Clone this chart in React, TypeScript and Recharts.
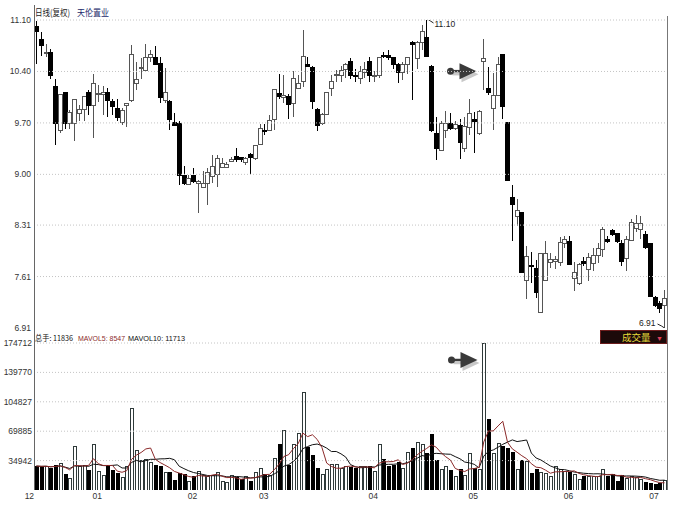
import { Bar, ComposedChart, Line, ReferenceLine, XAxis, YAxis } from "recharts"

// daily candles (price units)
const opens = [
  11.01, 10.83, 10.64, 10.66, 10.2, 9.6, 10.11, 9.69, 9.69, 9.83,
  9.88, 10.12, 9.94, 10.09, 10.08, 10.11, 9.99, 9.9, 9.71, 9.94,
  10.0, 10.23, 10.44, 10.41, 10.59, 10.59, 10.51, 10.0, 9.99, 9.7,
  9.69, 8.99, 8.86, 8.99, 8.88, 8.82, 8.88, 8.97, 9.0, 9.1,
  9.09, 9.18, 9.24, 9.23, 9.16, 9.27, 9.22, 9.41, 9.6, 9.6,
  9.74, 10.1, 10.05, 10.06, 9.97, 10.17, 10.26, 10.49, 10.45, 9.88,
  9.69, 9.82, 10.17, 10.35, 10.34, 10.42, 10.53, 10.34, 10.31, 10.38,
  10.53, 10.33, 10.34, 10.62, 10.62, 10.59, 10.49, 10.39, 10.49, 10.8,
  10.57, 10.8, 10.86, 10.47, 9.56, 9.32, 9.6, 9.69, 9.62, 9.67,
  9.35, 9.64, 9.74, 9.56, 10.54, 10.17, 9.9, 10.07, 10.63, 9.7,
  8.68, 8.43, 8.48, 7.55, 7.76, 7.72, 7.12, 7.55, 7.8, 7.82,
  7.8, 8.06, 8.08, 7.58, 7.52, 7.82, 7.7, 7.79, 7.89, 7.98,
  8.11, 8.23, 8.2, 8.06, 7.85, 8.1, 8.27, 8.25, 8.18, 8.06,
  7.32, 7.25, 7.21,
]
const highs = [
  11.08, 10.94, 10.78, 10.71, 10.3, 10.09, 10.11, 9.87, 10.03, 9.94,
  10.07, 10.15, 10.37, 10.21, 10.2, 10.17, 10.03, 10.03, 9.9, 9.97,
  10.76, 10.53, 10.58, 10.78, 10.69, 10.74, 10.6, 10.45, 10.01, 9.83,
  9.72, 9.12, 8.99, 9.08, 8.92, 9.04, 9.08, 9.26, 9.26, 9.22,
  9.17, 9.24, 9.36, 9.24, 9.23, 9.29, 9.4, 9.69, 9.69, 9.81,
  10.16, 10.37, 10.35, 10.1, 10.4, 10.35, 10.97, 10.6, 10.47, 9.9,
  9.83, 10.12, 10.35, 10.42, 10.48, 10.51, 10.58, 10.44, 10.47, 10.53,
  10.59, 10.4, 10.6, 10.67, 10.69, 10.6, 10.51, 10.53, 10.6, 10.82,
  10.81, 11.03, 11.1, 10.49, 9.78, 9.73, 9.86, 9.83, 9.73, 9.76,
  9.78, 10.03, 9.85, 9.88, 10.84, 10.46, 10.38, 10.6, 10.63, 9.7,
  8.85, 8.66, 8.48, 8.02, 7.95, 7.84, 7.92, 8.09, 7.93, 7.89,
  8.15, 8.16, 8.16, 7.81, 7.79, 7.87, 7.93, 8.0, 8.07, 8.29,
  8.16, 8.25, 8.2, 8.11, 8.16, 8.39, 8.45, 8.43, 8.23, 8.06,
  7.34, 7.28, 7.43,
]
const lows = [
  10.5, 10.61, 10.6, 10.3, 9.4, 9.56, 9.62, 9.62, 9.45, 9.72,
  9.72, 9.81, 9.49, 9.99, 9.81, 9.78, 9.81, 9.72, 9.67, 9.65,
  9.99, 10.15, 10.3, 10.4, 10.53, 10.49, 9.97, 9.97, 9.6, 9.67,
  8.85, 8.85, 8.85, 8.88, 8.47, 8.81, 8.58, 8.88, 8.83, 9.08,
  9.08, 9.17, 9.17, 9.17, 9.13, 9.0, 9.19, 9.4, 9.54, 9.6,
  9.6, 10.03, 9.97, 9.76, 9.78, 10.17, 10.19, 10.47, 9.89, 9.59,
  9.67, 9.81, 10.06, 10.26, 10.26, 10.31, 10.3, 10.26, 10.23, 10.31,
  10.26, 10.26, 10.31, 10.58, 10.56, 10.44, 10.24, 10.28, 10.37, 10.01,
  10.44, 10.69, 10.61, 9.58, 9.19, 9.32, 9.5, 9.6, 9.6, 9.21,
  9.3, 9.53, 9.29, 9.53, 10.15, 10.08, 9.6, 10.06, 9.76, 8.92,
  8.09, 8.3, 7.66, 7.3, 7.52, 7.32, 7.11, 7.55, 7.73, 7.71,
  7.75, 8.0, 7.77, 7.41, 7.5, 7.75, 7.55, 7.68, 7.8, 7.87,
  8.06, 8.16, 8.07, 7.75, 7.68, 8.09, 8.21, 8.12, 7.99, 7.34,
  7.19, 7.12, 6.91,
]
const closes = [
  10.95, 10.75, 10.66, 10.35, 9.69, 10.09, 9.69, 9.84, 10.02, 9.88,
  10.06, 9.94, 10.24, 10.1, 10.12, 10.0, 9.92, 9.78, 9.87, 9.97,
  10.63, 10.29, 10.45, 10.59, 10.63, 10.5, 10.04, 10.12, 9.74, 9.67,
  8.98, 8.88, 8.95, 8.9, 8.9, 8.88, 9.03, 9.11, 9.22, 9.15,
  9.14, 9.2, 9.2, 9.2, 9.21, 9.23, 9.39, 9.63, 9.59, 9.73,
  10.15, 10.06, 10.07, 9.95, 10.3, 10.23, 10.6, 10.47, 9.99, 9.66,
  9.81, 10.12, 10.26, 10.36, 10.41, 10.49, 10.35, 10.33, 10.4, 10.42,
  10.35, 10.34, 10.59, 10.6, 10.59, 10.49, 10.39, 10.49, 10.59, 10.77,
  10.8, 10.95, 10.61, 9.6, 9.35, 9.69, 9.69, 9.62, 9.68, 9.44,
  9.65, 9.83, 9.72, 9.85, 10.58, 10.11, 10.07, 10.49, 9.92, 8.92,
  8.59, 8.51, 7.67, 7.88, 7.74, 7.39, 7.92, 7.93, 7.84, 7.84,
  8.07, 8.11, 7.77, 7.66, 7.77, 7.79, 7.87, 7.9, 7.99, 8.25,
  8.09, 8.18, 8.09, 7.81, 8.11, 8.34, 8.33, 8.33, 8.01, 7.34,
  7.21, 7.17, 7.31,
]
// 成交量 (手)
const volumes = [
  28500, 27700, 28500, 25700, 29700, 31700, 19000, 13900, 51500, 28500,
  29700, 23000, 53500, 21800, 17800, 29700, 23000, 19800, 15000, 27700,
  97000, 47500, 35600, 36400, 32900, 29700, 28500, 20600, 20600, 11100,
  19800, 19000, 9900, 15800, 21800, 17000, 16600, 17800, 20600, 9900,
  8700, 17800, 14700, 12000, 16000, 10000, 20600, 25700, 19000, 17800,
  37600, 53500, 71300, 29700, 53500, 67300, 116000, 50700, 40800, 25700,
  19000, 23800, 30500, 30500, 25700, 28500, 26900, 25700, 28500, 27700,
  27700, 21800, 53500, 36400, 28500, 28900, 32500, 25700, 44400, 49500,
  56600, 53500, 42800, 66100, 35600, 24600, 28500, 23000, 16600, 23800,
  17800, 43600, 25700, 23800, 174712, 83200, 43600, 55400, 51500, 49500,
  44400, 23800, 34500, 33700, 19800, 23800, 20600, 19800, 15800, 27700,
  24600, 21800, 20600, 19000, 12700, 16600, 16600, 16600, 16600, 24600,
  16600, 18600, 9900, 16800, 14000, 16000, 15000, 12600, 9500, 8200,
  6000, 7200, 11836,
]

const priceTicks = [11.1, 10.4, 9.7, 9.0, 8.31, 7.61, 6.91]
const volumeTicks = [34942, 69885, 104827, 139770, 174712]
const monthTickIdx = [0, 13, 33, 48, 71, 92, 112, 130]
const monthNames = ["12", "01", "02", "03", "04", "05", "06", "07"]

const FONT = "'Liberation Sans', Arial, sans-serif"
const CJK = "'Noto Sans CJK SC', sans-serif"

function avgBack(arr: number[], i: number, n: number) {
  const from = Math.max(0, i - n + 1)
  let s = 0
  for (let k = from; k <= i; k++) s += arr[k]
  return s / (i - from + 1)
}

const rows = opens.map((o, i) => ({
  i,
  o,
  h: highs[i],
  l: lows[i],
  c: closes[i],
  range: [lows[i], highs[i]],
  v: volumes[i],
  ma5: avgBack(volumes, i, 5),
  ma10: avgBack(volumes, i, 10),
}))

let hiIdx = 0
let loIdx = 0
let volMaxIdx = 0
rows.forEach((r, i) => {
  if (r.h > rows[hiIdx].h) hiIdx = i
  if (r.l < rows[loIdx].l) loIdx = i
  if (r.v > rows[volMaxIdx].v) volMaxIdx = i
})

function Arrow({ tipX, tipY }: { tipX: number; tipY: number }) {
  const head = `${tipX - 17},${tipY - 8} ${tipX},${tipY} ${tipX - 17},${tipY + 8}`
  const shadow = `${tipX - 15},${tipY - 5} ${tipX + 2},${tipY + 3} ${tipX - 15},${tipY + 11}`
  return (
    <g>
      <polygon points={shadow} fill="#c8c8c8" />
      <line x1={tipX - 24} x2={tipX - 12} y1={tipY + 3} y2={tipY + 3} stroke="#c8c8c8" strokeWidth={2.5} />
      <line x1={tipX - 26} x2={tipX - 12} y1={tipY} y2={tipY} stroke="#3a3a3a" strokeWidth={2.5} />
      <circle cx={tipX - 26} cy={tipY} r={3.5} fill="#3a3a3a" />
      <polygon points={head} fill="#3a3a3a" />
    </g>
  )
}

function Candle(props: any) {
  const { x, y, width, height, payload } = props
  if (!payload || x == null || y == null) return null
  const { o, h, l, c, i } = payload
  const top = Math.min(y, y + height)
  const hgt = Math.abs(height)
  const span = h - l
  const py = (v: number) => (span > 0 ? top + ((h - v) / span) * hgt : top)
  const cx = Math.round(x + width / 2) + 0.5
  const up = c >= o
  const bTop = py(Math.max(o, c))
  const bBot = Math.max(py(Math.min(o, c)), bTop + 1)
  const col = up ? "#555" : "#000"
  return (
    <g>
      <g shapeRendering="crispEdges">
        <line x1={cx} x2={cx} y1={top} y2={bTop} stroke={col} />
        <line x1={cx} x2={cx} y1={bBot} y2={top + hgt} stroke={col} />
        <rect x={cx - 2} y={bTop} width={4} height={bBot - bTop} fill={up ? "#fff" : "#000"} stroke={col} />
      </g>
      {i === hiIdx && (
        <g>
          <polyline points={`${cx},${top} ${cx + 1},${top - 1} ${cx + 7},${top + 3}`} fill="none" stroke="#222" />
          <text x={cx + 8} y={top + 7} fontSize={8.5} fontFamily={FONT} fill="#222">
            {h.toFixed(2)}
          </text>
        </g>
      )}
      {i === loIdx && (
        <g>
          <polyline points={`${cx - 7},${top + hgt - 4} ${cx - 3},${top + hgt - 2} ${cx},${top + hgt}`} fill="none" stroke="#222" />
          <text x={cx - 9} y={top + hgt - 2} fontSize={8.5} fontFamily={FONT} fill="#222" textAnchor="end">
            {l.toFixed(2)}
          </text>
        </g>
      )}
      {i === volMaxIdx && <Arrow tipX={cx - 7} tipY={bBot + 10} />}
    </g>
  )
}

function VolBar(props: any) {
  const { x, y, width, height, payload } = props
  if (!payload || x == null || y == null) return null
  const up = payload.c >= payload.o
  const cx = Math.round(x + width / 2) + 0.5
  const top = Math.min(y, y + height)
  const hgt = Math.abs(height)
  return (
    <g>
      <rect
        shapeRendering="crispEdges"
        x={cx - 1.5}
        y={top}
        width={3}
        height={hgt}
        fill={up ? "#fff" : "#000"}
        stroke={up ? "#2f3a3a" : "#000"}
      />
      {payload.i === volMaxIdx && <Arrow tipX={cx - 6} tipY={top + 17} />}
    </g>
  )
}

function MonthTick(props: any) {
  const { x, y, payload } = props
  const k = monthTickIdx.indexOf(payload.value)
  const dx = k === 0 ? -7 : -1
  return (
    <text x={x + dx} y={y + 1} textAnchor="middle" fontSize={8.5} fontFamily={FONT} fill="#333">
      {monthNames[k]}
    </text>
  )
}

export default function App() {
  return (
    <div style={{ position: "absolute", left: 0, top: 0, width: 676, height: 505, background: "#fff" }}>
      <div style={{ position: "absolute", left: 0, top: 0 }}>
        <ComposedChart width={676} height={335} data={rows} margin={{ top: 20, right: 9, bottom: 7, left: 0 }}>
          <XAxis dataKey="i" type="category" hide />
          <YAxis
            domain={[6.91, 11.1]}
            ticks={priceTicks}
            interval={0}
            width={34}
            axisLine={false}
            tickLine={false}
            tickSize={0}
            tickMargin={3}
            tick={{ fontSize: 8.5, fill: "#333", fontFamily: FONT }}
            tickFormatter={(v: number) => v.toFixed(2)}
            allowDataOverflow
          />
          {priceTicks.slice(0, -1).map((t) => (
            <ReferenceLine key={t} y={t} stroke="#c4c4c4" strokeDasharray="1 2" />
          ))}
          <Bar dataKey="range" barSize={4} isAnimationActive={false} shape={(p: any) => <Candle {...p} />} />
        </ComposedChart>
      </div>
      <div style={{ position: "absolute", left: 0, top: 335 }}>
        <ComposedChart width={676} height={170} data={rows} margin={{ top: 8, right: 9, bottom: 0, left: 0 }}>
          <XAxis
            dataKey="i"
            type="category"
            ticks={monthTickIdx}
            interval={0}
            height={15}
            axisLine={false}
            tickLine={false}
            tick={(p: any) => <MonthTick {...p} />}
          />
          <YAxis
            domain={[0, 174712]}
            ticks={volumeTicks}
            interval={0}
            width={34}
            axisLine={false}
            tickLine={false}
            tickSize={0}
            tickMargin={2}
            tick={{ fontSize: 8.5, fill: "#333", fontFamily: FONT }}
            allowDataOverflow
          />
          {volumeTicks.map((t) => (
            <ReferenceLine key={t} y={t} stroke="#c4c4c4" strokeDasharray="1 2" />
          ))}
          <Bar dataKey="v" barSize={4} isAnimationActive={false} shape={(p: any) => <VolBar {...p} />} />
          <Line dataKey="ma10" type="linear" stroke="#111" strokeWidth={1} dot={false} isAnimationActive={false} />
          <Line dataKey="ma5" type="linear" stroke="#8b2a2a" strokeWidth={1} dot={false} isAnimationActive={false} />
        </ComposedChart>
      </div>
      <svg width={676} height={505} style={{ position: "absolute", left: 0, top: 0, pointerEvents: "none" }}>
        <g shapeRendering="crispEdges">
          <line x1={34.5} x2={34.5} y1={5} y2={490} stroke="#666" />
          <line x1={667.5} x2={667.5} y1={16} y2={490} stroke="#777" />
        </g>
        <text x={35} y={16} fontSize={9} fontFamily={CJK} fill="#222" textLength={35} lengthAdjust="spacingAndGlyphs">
          日线(复权)
        </text>
        <text x={77} y={16} fontSize={9} fontFamily={CJK} fill="#1b2a6b" textLength={32} lengthAdjust="spacingAndGlyphs">
          天伦置业
        </text>
        <text x={35} y={341} fontSize={8} fontFamily={CJK} fill="#111" textLength={38} lengthAdjust="spacingAndGlyphs">
          总手: 11836
        </text>
        <text x={78} y={341} fontSize={8} fontFamily={FONT} fill="#8b2a2a" textLength={47} lengthAdjust="spacingAndGlyphs">
          MAVOL5: 8547
        </text>
        <text x={128} y={341} fontSize={8} fontFamily={FONT} fill="#111" textLength={57} lengthAdjust="spacingAndGlyphs">
          MAVOL10: 11713
        </text>
        <rect x={600.5} y={330.5} width={66} height={13} fill="#1c0a0a" stroke="#6b1c1c" />
        <text x={622} y={341} fontSize={9.5} fontFamily={CJK} fill="#e8dc3a">
          成交量
        </text>
        <text x={656} y={340.5} fontSize={7} fontFamily={FONT} fill="#e0405a">
          ▼
        </text>
      </svg>
    </div>
  )
}
